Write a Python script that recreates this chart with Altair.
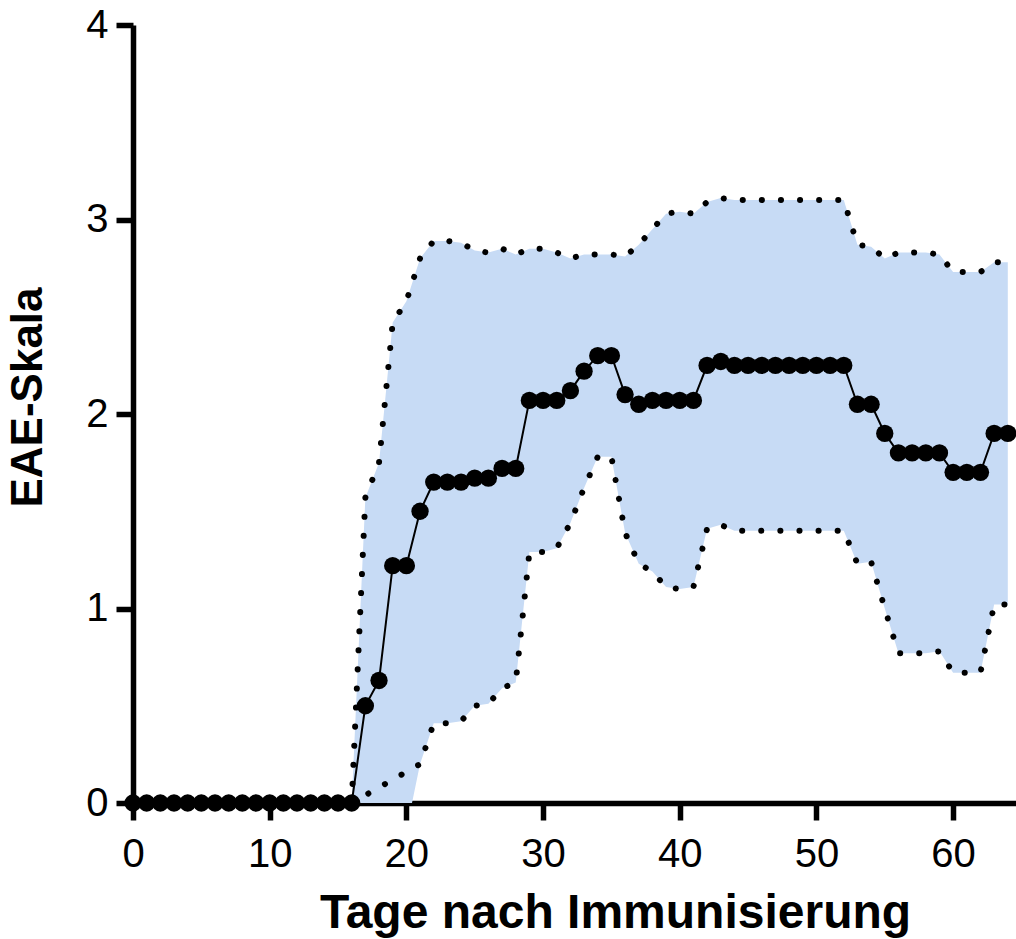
import altair as alt
import pandas as pd

# Day after immunisation
days = list(range(65))

# Mean EAE score per day
mean_score = [
    0, 0, 0, 0, 0, 0, 0, 0, 0, 0,
    0, 0, 0, 0, 0, 0, 0, 0.50, 0.63, 1.22,
    1.22, 1.50, 1.65, 1.65, 1.65, 1.67, 1.67, 1.72, 1.72, 2.07,
    2.07, 2.07, 2.12, 2.22, 2.30, 2.30, 2.10, 2.05, 2.07, 2.07,
    2.07, 2.07, 2.25, 2.27, 2.25, 2.25, 2.25, 2.25, 2.25, 2.25,
    2.25, 2.25, 2.25, 2.05, 2.05, 1.90, 1.80, 1.80, 1.80, 1.80,
    1.70, 1.70, 1.70, 1.90, 1.90,
]

# Standard deviation per day
sd_score = [
    0, 0, 0, 0, 0, 0, 0, 0, 0, 0,
    0, 0, 0, 0, 0, 0, 0, 1.07, 1.12, 1.25,
    1.36, 1.30, 1.24, 1.24, 1.23, 1.17, 1.16, 1.13, 1.10, 0.78,
    0.78, 0.76, 0.68, 0.60, 0.52, 0.52, 0.71, 0.82, 0.88, 0.96,
    0.97, 0.96, 0.84, 0.84, 0.85, 0.85, 0.85, 0.85, 0.85, 0.85,
    0.85, 0.85, 0.85, 0.82, 0.81, 0.90, 1.03, 1.03, 1.03, 1.02,
    1.03, 1.03, 1.03, 0.88, 0.88,
]

x_ticks = [0, 10, 20, 30, 40, 50, 60]
y_ticks = [0, 1, 2, 3, 4]

df = pd.DataFrame({"day": days, "mean": mean_score, "sd": sd_score})

FONT = "Liberation Sans"

xscale = alt.Scale(domain=[0, 64.6], nice=False, zero=False)
yscale = alt.Scale(domain=[0, 4], nice=False, zero=False)
xaxis = alt.Axis(values=x_ticks, title="Tage nach Immunisierung",
                 labelFlush=False, titleX=482, titleFontSize=48)
yaxis = alt.Axis(values=y_ticks, title="EAE-Skala", labelFlush=False,
                 titleY=372)

X = alt.X("day:Q", scale=xscale, axis=xaxis)

base = alt.Chart(df).transform_calculate(
    upper="datum.mean + datum.sd",
    lower="datum.mean - datum.sd",
)

area = base.mark_area(color="#C7DBF5", opacity=1, clip=True).encode(
    x=X,
    y=alt.Y("lower:Q", scale=yscale, axis=yaxis),
    y2="upper:Q",
)

dot_style = dict(color="black", strokeWidth=6, strokeDash=[0.1, 19],
                 strokeCap="round", clip=True)

upper_line = base.transform_filter("datum.day >= 16").mark_line(**dot_style).encode(
    x=X,
    y=alt.Y("upper:Q", scale=yscale, axis=yaxis),
)

lower_line = base.transform_filter(
    "datum.day >= 16 && datum.lower >= -0.0001"
).mark_line(**dot_style).encode(
    x=X,
    y=alt.Y("lower:Q", scale=yscale, axis=yaxis),
)

mean_line = base.mark_line(color="black", strokeWidth=2).encode(
    x=X,
    y=alt.Y("mean:Q", scale=yscale, axis=yaxis),
)

points = base.mark_circle(color="black", opacity=1, size=300).encode(
    x=X,
    y=alt.Y("mean:Q", scale=yscale, axis=yaxis),
)

chart = alt.layer(area, upper_line, lower_line, mean_line, points).properties(
    width=883,
    height=778,
    autosize=alt.AutoSizeParams(type="none"),
    padding={"left": 133, "top": 25, "right": 0, "bottom": 136},
).configure_view(
    stroke=None
).configure_axis(
    domainColor="black",
    domainWidth=5.5,
    tickColor="black",
    tickWidth=5.5,
    tickSize=17,
    grid=False,
    labelFont=FONT,
    labelFontSize=40,
    labelColor="black",
    titleFont=FONT,
    titleFontSize=44,
    titleFontWeight="bold",
    titleColor="black",
).configure_axisX(
    labelPadding=14,
    titlePadding=15,
).configure_axisY(
    labelPadding=8,
    titlePadding=35,
)

chart.save("out.html", embed_options={"renderer": "svg", "actions": False})
